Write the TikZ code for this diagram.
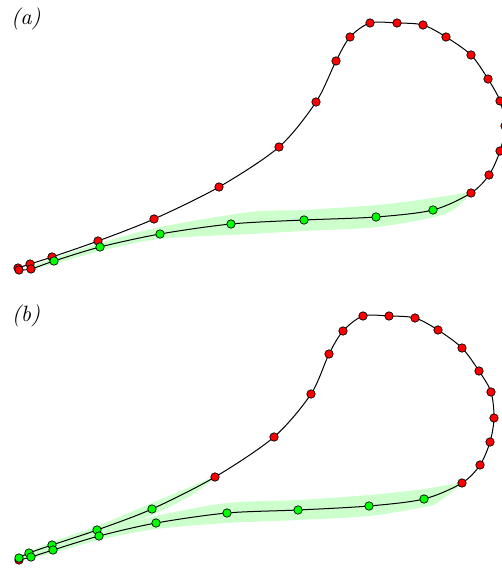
\documentclass[tikz,border=0pt]{standalone}
\usepackage{xcolor}
\usepackage{tikz}

\begin{document}
\begin{tikzpicture}[x=0.45pt, y=-0.45pt,
  dot/.style={circle, draw, line width=0.3pt, inner sep=0pt, minimum size=3.8pt},
  reddot/.style={dot, fill=red},
  greendot/.style={dot, fill=green},
  band/.style={fill=green!20, draw=none},
  curve/.style={line width=0.45pt}]
\useasboundingbox (0,0) rectangle (502,568);
% (a)
\node (laba) at (26,19) {\textit{(a)}};
\foreach \x/\y [count=\i] in {18/268, 30/264, 52/257, 98/241, 154/219, 219/187, 279/147, 316/102, 336/61, 350/37,
  370/23, 397/23, 423/25, 446/37, 471/55, 488/79, 500/101, 505/126, 500/151, 489/175,
  471/193, 433/210, 376/217, 304/220, 231/224, 160/234, 100/247, 54/261, 31/269, 19/270}
  \coordinate (a\i) at (\x,\y);
\fill[band] plot[smooth] coordinates {(30,267) (54,258) (100,243) (160,227) (250,212) (303,210) (377,205) (433,198) (470,192)}
  -- plot[smooth] coordinates {(470,194) (445,214) (377,227) (303,231) (250,234) (160,239) (100,251) (54,264) (30,269)} -- cycle;
\draw[curve] plot[smooth] coordinates {(a1) (a2) (a3) (a4) (a5) (a6) (a7) (a8) (a9) (a10) (a11) (a12) (a13) (a14) (a15)
  (a16) (a17) (a18) (a19) (a20) (a21) (a22) (a23) (a24) (a25) (a26) (a27) (a28) (a29) (a30)};
\foreach \i in {1,...,21,29,30} \node[reddot] (pa\i) at (a\i) {};
\foreach \i in {22,...,28} \node[greendot] (pa\i) at (a\i) {};
% (b)
\node (labb) at (26,316) {\textit{(b)}};
\foreach \x/\y [count=\i] in {19/558, 29/553, 52/545, 97/530, 152/509, 215/477, 274/437, 311/394, 329/354, 343/331,
  363/316, 389/316, 415/318, 438/330, 462/348, 479/371, 491/392, 494/418, 490/442, 480/465,
  462/483, 424/499, 369/506, 298/510, 227/513, 156/523, 99/536, 53/550, 31/557, 19/560}
  \coordinate (b\i) at (\x,\y);
\fill[band] plot[smooth] coordinates {(19,556) (52,542) (97,526) (152,503) (190,487) (215,476)}
  -- plot[smooth] coordinates {(215,478) (190,496) (152,515) (97,535) (52,549) (19,560)} -- cycle;
\fill[band] plot[smooth] coordinates {(29,556) (53,547) (99,532) (156,516) (227,503) (298,500) (369,495) (424,489) (462,482)}
  -- plot[smooth] coordinates {(462,484) (437,503) (424,507) (369,516) (298,520) (227,523) (156,529) (99,540) (53,553) (29,559)} -- cycle;
\draw[curve] plot[smooth] coordinates {(b1) (b2) (b3) (b4) (b5) (b6) (b7) (b8) (b9) (b10) (b11) (b12) (b13) (b14) (b15)
  (b16) (b17) (b18) (b19) (b20) (b21) (b22) (b23) (b24) (b25) (b26) (b27) (b28) (b29) (b30)};
\foreach \i in {6,...,21,30} \node[reddot] (pb\i) at (b\i) {};
\foreach \i in {1,...,5,22,23,...,29} \node[greendot] (pb\i) at (b\i) {};
\end{tikzpicture}
\end{document}
